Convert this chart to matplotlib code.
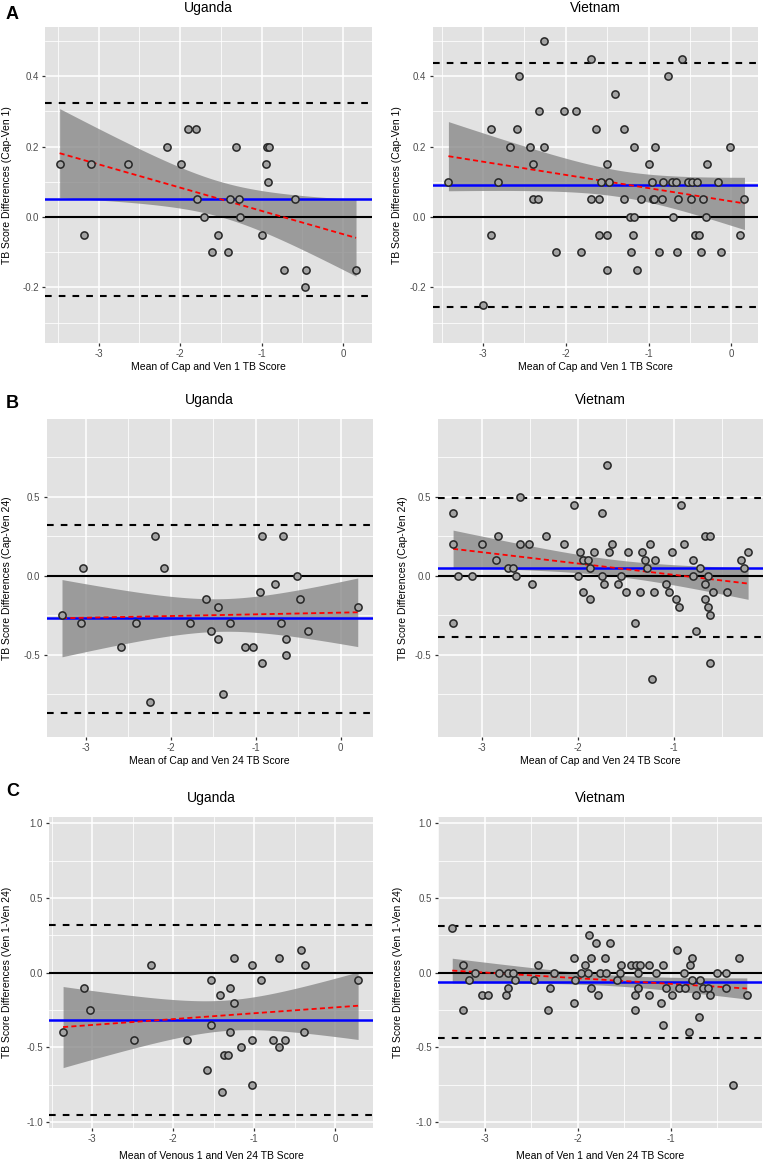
import numpy as np
import matplotlib.pyplot as plt

plt.rcParams['font.family'] = ['Liberation Sans', 'DejaVu Sans']
plt.rcParams['axes.unicode_minus'] = False

# ---- data ----
# A: Cap vs Ven 1
ug_a_x = [-3.48, -3.18, -3.09, -2.64, -2.16, -1.99, -1.90, -1.80, -1.79, -1.71, -1.61, -1.53, -1.41, -1.39,
          -1.31, -1.28, -1.26, -0.99, -0.94, -0.93, -0.91, -0.92, -0.73, -0.59, -0.47, -0.45, 0.16]
ug_a_y = [0.15, -0.05, 0.15, 0.15, 0.20, 0.15, 0.25, 0.25, 0.05, 0.00, -0.10, -0.05, -0.10, 0.05,
          0.20, 0.05, 0.00, -0.05, 0.15, 0.20, 0.20, 0.10, -0.15, 0.05, -0.20, -0.15, -0.15]
ug_a_lines = [0.05, -0.224, 0.325]  # bias, lower LoA, upper LoA

vn_a_x = [-3.42, -3.00, -2.90, -2.90, -2.82, -2.67, -2.59, -2.57, -2.43, -2.40, -2.40, -2.34, -2.32, -2.27,
          -2.27, -2.12, -2.02, -1.88, -1.82, -1.70, -1.70, -1.64, -1.60, -1.60, -1.58, -1.50, -1.50, -1.50,
          -1.48, -1.40, -1.30, -1.30, -1.23, -1.21, -1.19, -1.17, -1.17, -1.14, -1.09, -0.99, -0.96, -0.95,
          -0.93, -0.92, -0.87, -0.84, -0.82, -0.77, -0.72, -0.71, -0.67, -0.66, -0.64, -0.59, -0.52, -0.49,
          -0.47, -0.44, -0.41, -0.39, -0.37, -0.34, -0.31, -0.29, -0.16, -0.12, -0.02, 0.10, 0.16]
vn_a_y = [0.10, -0.25, 0.25, -0.05, 0.10, 0.20, 0.25, 0.40, 0.20, 0.15, 0.05, 0.05, 0.30, 0.20,
          0.50, -0.10, 0.30, 0.30, -0.10, 0.45, 0.05, 0.25, 0.05, -0.05, 0.10, 0.15, -0.05, -0.15,
          0.10, 0.35, 0.25, 0.05, 0.00, -0.10, -0.05, 0.20, 0.00, -0.15, 0.05, 0.15, 0.10, 0.05,
          0.05, 0.20, -0.10, 0.05, 0.10, 0.40, 0.10, 0.00, 0.10, -0.10, 0.05, 0.45, 0.10, 0.05,
          0.10, -0.05, 0.10, -0.05, -0.10, 0.05, 0.00, 0.15, 0.10, -0.10, 0.20, -0.05, 0.05]
vn_a_lines = [0.091, -0.257, 0.437]

# B: Cap vs Ven 24
ug_b_x = [-3.28, -3.06, -3.03, -2.58, -2.41, -2.25, -2.18, -2.08, -1.77, -1.58, -1.53, -1.45, -1.45, -1.38,
          -1.30, -1.13, -1.03, -0.95, -0.93, -0.93, -0.77, -0.70, -0.68, -0.65, -0.65, -0.51, -0.48, -0.38,
          0.20]
ug_b_y = [-0.25, -0.30, 0.05, -0.45, -0.30, -0.80, 0.25, 0.05, -0.30, -0.15, -0.35, -0.20, -0.40, -0.75,
          -0.30, -0.45, -0.45, -0.10, 0.25, -0.55, -0.05, -0.30, 0.25, -0.40, -0.50, 0.00, -0.15, -0.35,
          -0.20]
ug_b_lines = [-0.27, -0.865, 0.32]

vn_b_x = [-3.30, -3.30, -3.30, -3.25, -3.10, -3.00, -2.85, -2.83, -2.73, -2.68, -2.65, -2.60, -2.60, -2.51,
          -2.48, -2.33, -2.15, -2.04, -2.00, -1.98, -1.95, -1.95, -1.90, -1.88, -1.88, -1.83, -1.75, -1.75,
          -1.73, -1.70, -1.68, -1.65, -1.58, -1.55, -1.50, -1.48, -1.41, -1.35, -1.33, -1.30, -1.28, -1.25,
          -1.23, -1.21, -1.20, -1.08, -1.05, -1.02, -0.98, -0.95, -0.93, -0.90, -0.80, -0.80, -0.77, -0.73,
          -0.68, -0.68, -0.68, -0.65, -0.65, -0.63, -0.63, -0.63, -0.60, -0.45, -0.30, -0.27, -0.23]
vn_b_y = [0.40, 0.20, -0.30, 0.00, 0.00, 0.20, 0.10, 0.25, 0.05, 0.05, 0.00, 0.50, 0.20, 0.20,
          -0.05, 0.25, 0.20, 0.45, 0.00, 0.15, 0.10, -0.10, 0.10, 0.05, -0.15, 0.15, 0.00, 0.40,
          -0.05, 0.70, 0.15, 0.20, -0.05, 0.00, -0.10, 0.15, -0.30, -0.10, 0.15, 0.10, 0.05, 0.20,
          -0.65, -0.10, 0.10, -0.05, -0.10, 0.15, -0.15, -0.20, 0.45, 0.20, 0.10, 0.00, -0.35, 0.05,
          0.25, -0.05, -0.15, 0.00, -0.20, 0.25, -0.25, -0.55, -0.10, -0.10, 0.10, 0.05, 0.15]
vn_b_lines = [0.05, -0.386, 0.49]

# C: Ven 1 vs Ven 24
ug_c_x = [-3.36, -3.10, -3.03, -2.48, -2.28, -1.83, -1.58, -1.53, -1.53, -1.42, -1.40, -1.38, -1.32, -1.30,
          -1.30, -1.25, -1.25, -1.16, -1.03, -1.03, -1.03, -0.92, -0.77, -0.70, -0.70, -0.62, -0.42, -0.39,
          -0.37, 0.28]
ug_c_y = [-0.40, -0.10, -0.25, -0.45, 0.05, -0.45, -0.65, -0.05, -0.35, -0.15, -0.80, -0.55, -0.55, -0.10,
          -0.40, 0.10, -0.20, -0.50, 0.05, -0.45, -0.75, -0.05, -0.45, 0.10, -0.50, -0.45, 0.15, -0.40,
          0.05, -0.05]
ug_c_lines = [-0.32, -0.95, 0.317]

vn_c_x = [-3.35, -3.23, -3.23, -3.17, -3.10, -3.03, -2.97, -2.85, -2.77, -2.75, -2.75, -2.70, -2.67, -2.47,
          -2.43, -2.32, -2.30, -2.25, -2.04, -2.03, -2.04, -1.96, -1.92, -1.89, -1.88, -1.86, -1.86, -1.80,
          -1.78, -1.76, -1.71, -1.70, -1.65, -1.58, -1.55, -1.53, -1.43, -1.38, -1.38, -1.37, -1.35, -1.35,
          -1.33, -1.23, -1.23, -1.16, -1.10, -1.08, -1.08, -1.05, -0.98, -0.93, -0.91, -0.86, -0.85, -0.80,
          -0.79, -0.77, -0.77, -0.73, -0.70, -0.68, -0.65, -0.60, -0.58, -0.50, -0.40, -0.40, -0.33, -0.26,
          -0.18]
vn_c_y = [0.30, 0.05, -0.25, -0.05, 0.00, -0.15, -0.15, 0.00, -0.15, -0.10, 0.00, 0.00, -0.05, -0.05,
          0.05, -0.25, -0.10, 0.00, 0.10, -0.05, -0.20, 0.00, 0.05, 0.00, 0.25, 0.10, -0.10, 0.20,
          -0.15, 0.00, 0.10, 0.00, 0.20, -0.05, 0.00, 0.05, 0.05, -0.15, -0.25, 0.05, 0.00, -0.10,
          0.05, 0.05, -0.15, 0.00, -0.20, -0.35, 0.05, -0.10, -0.15, 0.15, -0.10, 0.00, -0.10, -0.40,
          0.05, 0.10, -0.05, -0.15, -0.30, -0.05, -0.10, -0.10, -0.15, 0.00, 0.00, -0.10, -0.75, 0.10,
          -0.15]
vn_c_lines = [-0.062, -0.435, 0.31]

x_titles = ['Mean of Cap and Ven 1 TB Score', 'Mean of Cap and Ven 24 TB Score',
            'Mean of Venous 1 and Ven 24 TB Score', 'Mean of Ven 1 and Ven 24 TB Score']
y_titles = ['TB Score Differences (Cap-Ven 1)', 'TB Score Differences (Cap-Ven 24)',
            'TB Score Differences (Ven 1-Ven 24)']

W, H = 766, 1166
fig = plt.figure(figsize=(W / 100, H / 100), dpi=100)


def t975(df):
    # Cornish-Fisher approximation of the 97.5% t quantile
    z = 1.959964
    g1 = (z**3 + z) / 4
    g2 = (5 * z**5 + 16 * z**3 + 3 * z) / 96
    g3 = (3 * z**7 + 19 * z**5 + 17 * z**3 - 15 * z) / 384
    return z + g1 / df + g2 / df**2 + g3 / df**3


def panel(box, x, y, lines, xlim, ylim, yticks, yminor, title, xlab, ylab, ylab_x, xlab_off=24):
    left, top, right, bottom = box
    ax = fig.add_axes([left / W, 1 - bottom / H, (right - left) / W, (bottom - top) / H])
    ax.set_facecolor('#E2E2E2')
    ax.set_xlim(xlim)
    ax.set_ylim(ylim)
    xt = np.arange(-4, 2)
    ax.set_xticks([v for v in xt if xlim[0] <= v <= xlim[1]])
    ax.set_xticks([v + 0.5 for v in np.arange(-5, 2) if xlim[0] <= v + 0.5 <= xlim[1]], minor=True)
    ax.set_yticks(yticks)
    ax.set_yticks(yminor, minor=True)
    ax.set_xticklabels(['%d' % v for v in ax.get_xticks()])
    ax.set_yticklabels(['%.1f' % v for v in yticks])
    ax.grid(True, which='major', color='white', lw=1.1)
    ax.grid(True, which='minor', color='white', lw=0.55)
    ax.set_axisbelow(True)
    for s in ax.spines.values():
        s.set_visible(False)
    ax.tick_params(which='minor', length=0)
    ax.tick_params(which='major', length=2.5, width=0.9, color='#333333',
                   labelsize=7, labelcolor='#4D4D4D', pad=2)

    x = np.asarray(x)
    y = np.asarray(y)
    n = len(x)
    b, a = np.polyfit(x, y, 1)
    xs = np.linspace(x.min(), x.max(), 80)
    fit = a + b * xs
    s = np.sqrt(np.sum((y - a - b * x) ** 2) / (n - 2))
    se = s * np.sqrt(1 / n + (xs - x.mean()) ** 2 / np.sum((x - x.mean()) ** 2))
    t = t975(n - 2)
    ax.fill_between(xs, fit - t * se, fit + t * se, color='#8A8A8A', alpha=0.8, lw=0, zorder=2)

    bias, lo, hi = lines
    ax.axhline(0, color='black', lw=1.5, zorder=3)
    ax.axhline(hi, color='black', lw=1.5, ls=(0, (3.2, 3.4)), zorder=3)
    ax.axhline(lo, color='black', lw=1.5, ls=(0, (3.2, 3.4)), zorder=3)
    ax.axhline(bias, color='#0000FF', lw=1.8, zorder=4)
    ax.plot(xs, fit, color='#FF0000', lw=1.3, ls=(0, (2.8, 1.8)), zorder=5)
    ax.scatter(x, y, s=27, facecolor='#A3A3A3', edgecolor='#262626', lw=1.1, zorder=6)

    cx = (left + right) / 2
    fig.text(cx / W, 1 - (top - 19) / H, title, ha='center', va='center', fontsize=10)
    fig.text(cx / W, 1 - (bottom + xlab_off) / H, xlab, ha='center', va='center', fontsize=7.5)
    fig.text(ylab_x / W, 1 - (top + bottom) / 2 / H, ylab, rotation=90,
             ha='center', va='center', fontsize=7.5)
    return ax


ya_t = [-0.2, 0.0, 0.2, 0.4]
ya_m = [-0.3, -0.1, 0.1, 0.3, 0.5]
yb_t = [-0.5, 0.0, 0.5]
yb_m = [-0.75, -0.25, 0.25, 0.75]
yc_t = [-1.0, -0.5, 0.0, 0.5, 1.0]
yc_m = [-0.75, -0.25, 0.25, 0.75]

panel((45, 27, 372, 343), ug_a_x, ug_a_y, ug_a_lines, (-3.66, 0.356), (-0.358, 0.54),
      ya_t, ya_m, 'Uganda', x_titles[0], y_titles[0], 7)
panel((432.7, 27, 757.7, 343), vn_a_x, vn_a_y, vn_a_lines, (-3.61, 0.32), (-0.358, 0.54),
      ya_t, ya_m, 'Vietnam', x_titles[0], y_titles[0], 397)
panel((46.7, 419.3, 372.7, 737), ug_b_x, ug_b_y, ug_b_lines, (-3.46, 0.376), (-1.02, 0.99),
      yb_t, yb_m, 'Uganda', x_titles[1], y_titles[1], 7)
panel((437.7, 419.3, 763, 737), vn_b_x, vn_b_y, vn_b_lines, (-3.46, -0.075), (-1.02, 0.99),
      yb_t, yb_m, 'Vietnam', x_titles[1], y_titles[1], 403)
panel((49.3, 817.3, 372.7, 1128), ug_c_x, ug_c_y, ug_c_lines, (-3.53, 0.46), (-1.04, 1.04),
      yc_t, yc_m, 'Uganda', x_titles[2], y_titles[2], 7, 28)
panel((438.3, 817.3, 761.7, 1128), vn_c_x, vn_c_y, vn_c_lines, (-3.50, -0.02), (-1.04, 1.04),
      yc_t, yc_m, 'Vietnam', x_titles[3], y_titles[2], 398, 28)

for letter, yy in [('A', 14.5), ('B', 403), ('C', 791)]:
    fig.text(12.5 / W, 1 - yy / H, letter, ha='center', va='center', fontsize=13, fontweight='bold')

fig.savefig('out.png', dpi=100)
